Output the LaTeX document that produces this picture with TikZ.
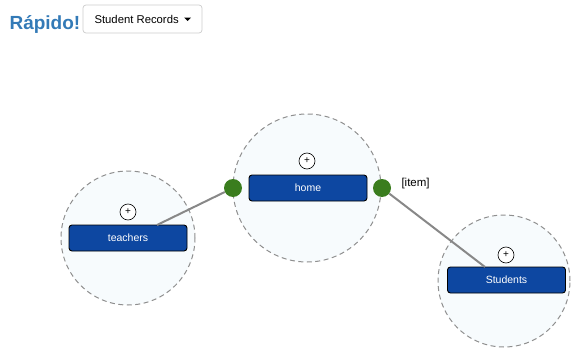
\documentclass[tikz,border=0pt]{standalone}
\usepackage{fontspec}
\setmainfont{Liberation Sans}
\definecolor{brand}{HTML}{337AB7}
\definecolor{nodeblue}{HTML}{0D47A1}
\definecolor{zonefill}{HTML}{F7FBFD}
\definecolor{zoneline}{HTML}{8F8F8F}
\definecolor{linkgray}{HTML}{888888}
\definecolor{portgreen}{HTML}{3A7D1E}
\definecolor{btnline}{HTML}{CCCCCC}
\tikzset{
  zone/.style={circle, draw=zoneline, fill=zonefill, line width=1pt,
    dash pattern=on 5pt off 3.5pt, minimum size=#1, inner sep=0pt},
  recbox/.style={draw=black, fill=nodeblue, rounded corners=3pt, line width=0.9pt,
    minimum width=118pt, minimum height=26pt, inner sep=0pt, text=white,
    font=\fontsize{10.5}{12}\selectfont},
  addbtn/.style={circle, draw=black, fill=white, line width=0.6pt,
    minimum size=16pt, inner sep=0pt, font=\fontsize{10}{10}\selectfont},
  port/.style={circle, fill=portgreen, minimum size=18pt, inner sep=0pt},
  link/.style={draw=linkgray, line width=2pt},
}
\begin{document}
\begin{tikzpicture}[x=1pt, y=-1pt]
  \useasboundingbox (0,0) rectangle (571,348);
  % header
  \node[anchor=west, text=brand, font=\fontsize{19}{22}\selectfont\bfseries] (brand) at (6,25) {Rápido!};
  \node[draw=btnline, rounded corners=3pt, fill=white, line width=0.7pt,
        minimum width=119pt, minimum height=28pt, inner sep=0pt] (menu) at (142.5,19) {};
  \node[anchor=west, font=\fontsize{11.3}{14}\selectfont] (menutext) at (91,19) {Student Records};
  \fill (184,17.5) -- (191,17.5) -- (187.5,21) -- cycle;

  % zones
  \node[zone=134pt] (zt) at (128,238) {};
  \node[zone=148pt] (zh) at (307,188) {};
  \node[zone=132pt] (zs) at (504,281) {};

  % record boxes
  \node[recbox] (teachers) at (128,238) {\raisebox{-1.5pt}{teachers}};
  \node[recbox] (home) at (308,188) {\raisebox{-1.5pt}{home}};
  \node[recbox] (students) at (506.5,280) {\raisebox{-1.5pt}{Students}};

  % links between the ports and the records
  \node[port] (pl) at (233,188) {};
  \node[port] (pr) at (382,188) {};
  \coordinate (tt) at (157,225);
  \coordinate (st) at (485,267);
  \draw[link] (pl) -- (tt);
  \draw[link] (pr) -- (st);

  % add buttons
  \node[addbtn] (at) at (128,212) {\raisebox{1pt}{+}};
  \node[addbtn] (ah) at (307,161) {\raisebox{1pt}{+}};
  \node[addbtn] (as) at (506,255) {\raisebox{1pt}{+}};

  \node[anchor=west, font=\fontsize{11.5}{13}\selectfont] (item) at (398,184) {[item]};
\end{tikzpicture}
\end{document}
